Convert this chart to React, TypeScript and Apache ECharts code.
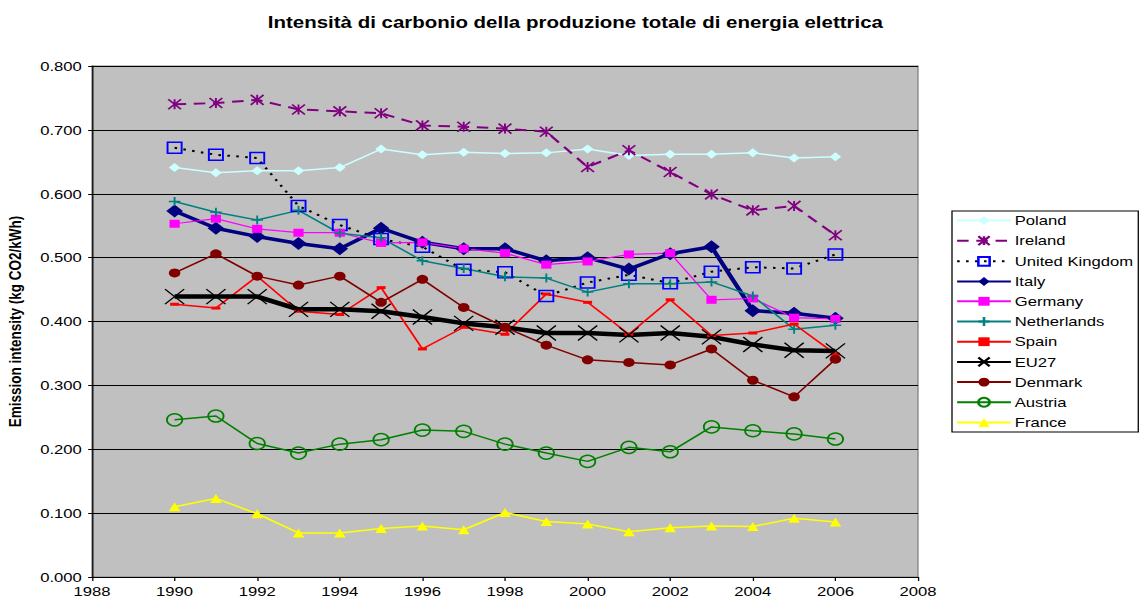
import React, { useEffect, useRef } from "react";
import * as echarts from "echarts";

const years = [1990, 1991, 1992, 1993, 1994, 1995, 1996, 1997, 1998, 1999, 2000, 2001, 2002, 2003, 2004, 2005, 2006];

const poland = [0.641, 0.633, 0.636, 0.636, 0.641, 0.670, 0.661, 0.665, 0.663, 0.664, 0.670, 0.660, 0.662, 0.662, 0.664, 0.656, 0.658];
const ireland = [0.740, 0.742, 0.747, 0.732, 0.729, 0.726, 0.707, 0.705, 0.702, 0.697, 0.642, 0.668, 0.634, 0.599, 0.574, 0.581, 0.535];
const uk = [0.672, 0.661, 0.656, 0.581, 0.551, 0.529, 0.517, 0.481, 0.477, 0.440, 0.461, 0.473, 0.460, 0.478, 0.485, 0.483, 0.505];
const italy = [0.573, 0.546, 0.533, 0.522, 0.514, 0.546, 0.524, 0.514, 0.514, 0.495, 0.500, 0.482, 0.506, 0.517, 0.417, 0.413, 0.405];
const germany = [0.553, 0.561, 0.545, 0.539, 0.539, 0.523, 0.524, 0.514, 0.507, 0.489, 0.494, 0.505, 0.507, 0.434, 0.436, 0.406, 0.404];
const netherlands = [0.588, 0.571, 0.559, 0.574, 0.538, 0.531, 0.495, 0.483, 0.470, 0.468, 0.446, 0.459, 0.459, 0.462, 0.440, 0.388, 0.394];
const spain = [0.427, 0.421, 0.471, 0.416, 0.411, 0.453, 0.357, 0.391, 0.380, 0.443, 0.430, 0.380, 0.434, 0.378, 0.382, 0.396, 0.349];
const eu27 = [0.439, 0.439, 0.439, 0.419, 0.419, 0.416, 0.407, 0.397, 0.391, 0.382, 0.382, 0.379, 0.382, 0.376, 0.364, 0.355, 0.354];
const denmark = [0.476, 0.506, 0.471, 0.457, 0.471, 0.430, 0.466, 0.422, 0.391, 0.363, 0.340, 0.336, 0.332, 0.357, 0.308, 0.282, 0.341];
const austria = [0.246, 0.252, 0.209, 0.194, 0.208, 0.215, 0.230, 0.228, 0.208, 0.194, 0.181, 0.203, 0.196, 0.235, 0.229, 0.224, 0.216];
const france = [0.110, 0.123, 0.099, 0.069, 0.069, 0.076, 0.080, 0.074, 0.101, 0.087, 0.083, 0.071, 0.077, 0.080, 0.079, 0.092, 0.086];

const FONT = "'Liberation Sans', Arial, sans-serif";

// the reference is horizontally stretched; draw narrower and stretch with CSS
const PAGE_W = 1142;
const PAGE_H = 608;
const DRAW_W = 892;
const SX = PAGE_W / DRAW_W;
const px = (realX: number) => realX / SX;

const pairs = (vals: number[]) => years.map((y, i) => [y, vals[i]]);

export default function App() {
  const ref = useRef<HTMLDivElement>(null);
  useEffect(() => {
    if (!ref.current) return;
    const chart = echarts.init(ref.current, undefined, { renderer: "svg" });

    const mk = (
      name: string,
      vals: number[],
      lineColor: string,
      width: number,
      type: any,
      symbol: string,
      symbolSize: any,
      itemStyle: any
    ) => ({
      name,
      type: "line",
      data: pairs(vals),
      symbol,
      symbolSize,
      showAllSymbol: true,
      lineStyle: { color: lineColor, width, type },
      itemStyle,
      emphasis: { disabled: true },
    });

    const series = [
      mk("Poland", poland, "#ccffff", 1.5, "solid", "diamond", 9, { color: "#ccffff" }),
      mk("Ireland", ireland, "#800080", 2, [9, 6], "path://M0,0L10,10M10,0L0,10M5,0L5,10", 10, {
        color: "none",
        borderColor: "#800080",
        borderWidth: 1.5,
      }),
      mk("United Kingdom", uk, "#000000", 2, [2, 5], "rect", 11, {
        color: "none",
        borderColor: "#0000ff",
        borderWidth: 1.5,
      }),
      mk("Italy", italy, "#000080", 3.5, "solid", "diamond", 13, { color: "#000080" }),
      mk("Germany", germany, "#ff00ff", 1.2, "solid", "rect", 8, { color: "#ff00ff" }),
      mk("Netherlands", netherlands, "#008080", 1.5, "solid", "path://M5,0L5,10M0,5L10,5", 9, {
        color: "none",
        borderColor: "#008080",
        borderWidth: 1.5,
      }),
      mk("Spain", spain, "#ff0000", 1.5, "solid", "rect", [7, 3], { color: "#ff0000" }),
      mk("EU27", eu27, "#000000", 4.5, "solid", "path://M0,0L10,10M10,0L0,10", 15, {
        color: "none",
        borderColor: "#000000",
        borderWidth: 1.2,
      }),
      mk("Denmark", denmark, "#800000", 1.5, "solid", "circle", 9, { color: "#800000" }),
      mk("Austria", austria, "#008000", 1.5, "solid", "circle", 12, {
        color: "none",
        borderColor: "#008000",
        borderWidth: 1.5,
      }),
      mk("France", france, "#ffff00", 1.5, "solid", "triangle", 9, { color: "#ffff00" }),
    ];

    chart.setOption({
      animation: false,
      backgroundColor: "#ffffff",
      title: {
        text: "Intensità di carbonio della produzione totale di energia elettrica",
        left: px(569),
        textAlign: "center",
        top: 9,
        textStyle: { fontFamily: FONT, fontSize: 16, fontWeight: "bold", color: "#000" },
      },
      legend: {
        orient: "vertical",
        left: px(952),
        top: 211,
        padding: [3, 4, 3, 3],
        itemWidth: 42,
        itemHeight: 11,
        itemGap: 6.8,
        backgroundColor: "#ffffff",
        borderColor: "#000000",
        borderWidth: 1,
        borderRadius: 0,
        selectedMode: false,
        textStyle: { fontFamily: FONT, fontSize: 13, color: "#000", padding: [0, 0, 0, -2] },
        data: series.map((s) => s.name),
      },
      grid: {
        left: px(92),
        right: px(PAGE_W - 918),
        top: 66,
        bottom: 31,
        containLabel: false,
        outerBoundsMode: "none",
        show: true,
        backgroundColor: "#c0c0c0",
        borderColor: "#808080",
        borderWidth: 1,
      },
      xAxis: {
        type: "value",
        min: 1988,
        max: 2008,
        interval: 2,
        axisLine: { show: true, lineStyle: { color: "#000", width: 1 } },
        axisTick: { show: true, length: 4, lineStyle: { color: "#000" } },
        splitLine: { show: false },
        axisLabel: {
          fontFamily: FONT,
          fontSize: 13,
          color: "#000",
          margin: 8,
          formatter: (v: number) => String(v),
        },
      },
      yAxis: {
        type: "value",
        min: 0,
        max: 0.8,
        interval: 0.1,
        name: "Emission intensity (kg CO2/kWh)",
        nameLocation: "middle",
        nameGap: 53,
        nameTextStyle: { fontFamily: FONT, fontSize: 13.5, fontWeight: "bold", color: "#000" },
        axisLine: { show: true, lineStyle: { color: "#000", width: 1 } },
        axisTick: { show: true, length: 3, lineStyle: { color: "#000" } },
        splitLine: { show: true, lineStyle: { color: "#000", width: 1 } },
        axisLabel: {
          fontFamily: FONT,
          fontSize: 13,
          color: "#000",
          margin: 8,
          formatter: (v: number) => v.toFixed(3),
        },
      },
      series,
    });

    return () => chart.dispose();
  }, []);

  return (
    <div
      style={{
        position: "fixed",
        left: 0,
        top: 0,
        width: PAGE_W,
        height: PAGE_H,
        overflow: "hidden",
        background: "#fff",
      }}
    >
      <div
        ref={ref}
        style={{
          width: DRAW_W,
          height: PAGE_H,
          transform: `scaleX(${SX})`,
          transformOrigin: "left top",
        }}
      />
    </div>
  );
}
